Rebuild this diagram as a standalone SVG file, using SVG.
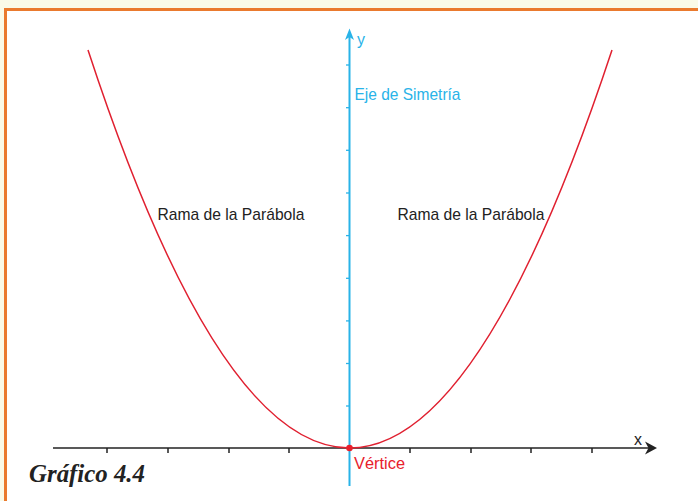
<svg xmlns="http://www.w3.org/2000/svg" width="698" height="501" viewBox="0 0 698 501">
<style>
.lbl{font-family:"Liberation Sans",Arial,sans-serif;font-size:17px;}
.blue{fill:#29b3e8;}
.red{fill:#e8202c;}
.dark{fill:#222;}
.tick{stroke:#222;stroke-width:1.5;}
.ytick{stroke:#29b3e8;stroke-width:1.3;}
</style>
<rect x="0" y="0" width="698" height="501" fill="#fafae8"/>
<rect x="5.5" y="9.5" width="693" height="492" fill="#fff"/>
<path d="M5.5 501 V9.5 H698" fill="none" stroke="#ea7a2e" stroke-width="3"/>
<g id="x-axis">
<line x1="53" y1="448" x2="650" y2="448" stroke="#222" stroke-width="1.6"/>
<path d="M645 441.5 L657 448 L645 454.5 L648.5 448 Z" fill="#222"/>
<g class="tick">
<line x1="107" y1="448" x2="107" y2="453"/><line x1="168" y1="448" x2="168" y2="453"/>
<line x1="229" y1="448" x2="229" y2="453"/><line x1="289" y1="448" x2="289" y2="453"/>
<line x1="410" y1="448" x2="410" y2="453"/><line x1="471" y1="448" x2="471" y2="453"/>
<line x1="531" y1="448" x2="531" y2="453"/><line x1="592" y1="448" x2="592" y2="453"/>
</g>
<text class="lbl dark" x="634" y="445" textLength="8" lengthAdjust="spacingAndGlyphs">x</text>
</g>
<g id="y-axis">
<line x1="349.5" y1="36" x2="349.5" y2="486" stroke="#29b3e8" stroke-width="2"/>
<path d="M345 40 L349.5 28.5 L354 40 L349.5 37 Z" fill="#29b3e8"/>
<g class="ytick">
<line x1="346" y1="65" x2="349" y2="65"/><line x1="346" y1="107.7" x2="349" y2="107.7"/>
<line x1="346" y1="150.3" x2="349" y2="150.3"/><line x1="346" y1="193" x2="349" y2="193"/>
<line x1="346" y1="235.6" x2="349" y2="235.6"/><line x1="346" y1="278.3" x2="349" y2="278.3"/>
<line x1="346" y1="320.9" x2="349" y2="320.9"/><line x1="346" y1="363.5" x2="349" y2="363.5"/>
<line x1="346" y1="406" x2="349" y2="406"/>
</g>
<text class="lbl blue" x="357" y="45" textLength="8" lengthAdjust="spacingAndGlyphs">y</text>
<text class="lbl blue" x="354.5" y="100" textLength="106" lengthAdjust="spacingAndGlyphs">Eje de Simetría</text>
</g>
<g id="parabola">
<path d="M88 50 Q349 846 612 50" fill="none" stroke="#e02030" stroke-width="1.5"/>
<text class="lbl dark" x="157.5" y="220" textLength="147" lengthAdjust="spacingAndGlyphs">Rama de la Parábola</text>
<text class="lbl dark" x="397.5" y="220" textLength="147" lengthAdjust="spacingAndGlyphs">Rama de la Parábola</text>
</g>
<g id="vertex">
<circle cx="349.5" cy="448" r="3.3" fill="#e8202c"/>
<text class="lbl red" x="354" y="469" textLength="51" lengthAdjust="spacingAndGlyphs">Vértice</text>
</g>
<text x="29" y="482" font-family="Liberation Serif,'Times New Roman',serif" font-size="25" font-weight="bold" font-style="italic" fill="#222" textLength="116" lengthAdjust="spacingAndGlyphs">Gráfico 4.4</text>
</svg>
